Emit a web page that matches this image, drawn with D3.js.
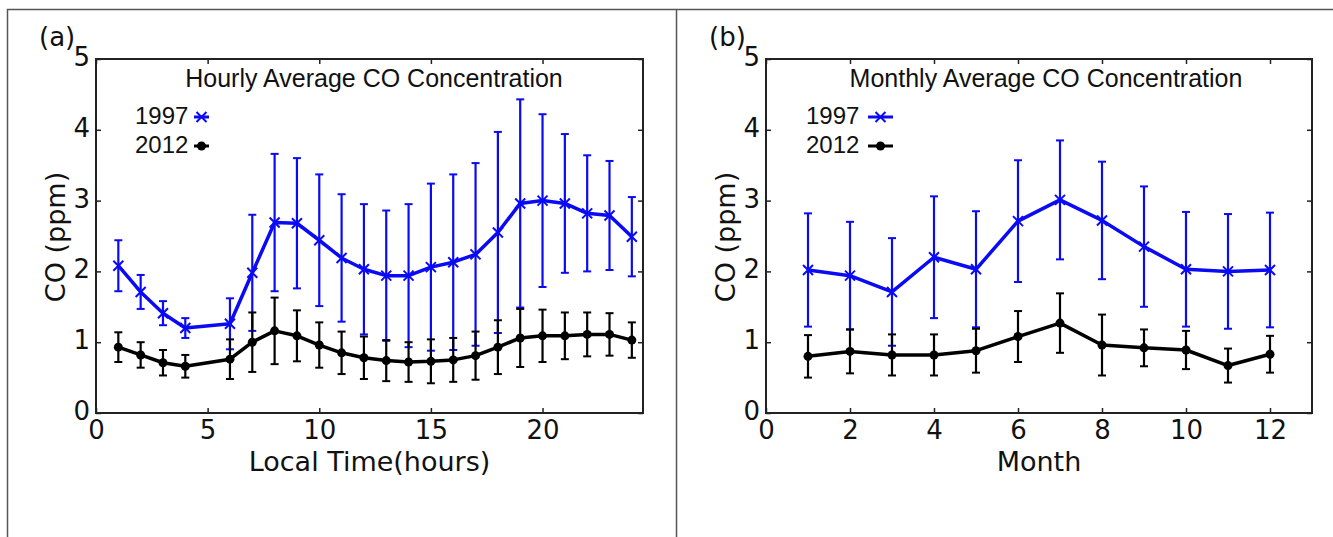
<!DOCTYPE html>
<html>
<head>
<meta charset="utf-8">
<script src="https://cdn.jsdelivr.net/npm/d3@7"></script>
<style>
  body { margin: 0; background: #fff; }
  svg { display: block; }
  .tick text { font-family: "DejaVu Sans", sans-serif; font-size: 26px; fill: #111; }
  .tick line { stroke: #222; stroke-width: 1.5; }
</style>
</head>
<body>
<svg id="chart" width="1333" height="537"></svg>
<script>
// hourly data (hour 5 is missing in the source)
const hours = [1, 2, 3, 4, 6, 7, 8, 9, 10, 11, 12, 13, 14, 15, 16, 17, 18, 19, 20, 21, 22, 23, 24];
const hourly1997 = [2.08, 1.71, 1.41, 1.20, 1.26, 1.98, 2.69, 2.68, 2.44, 2.19, 2.03, 1.94, 1.94, 2.06, 2.13, 2.24, 2.55, 2.96, 3.00, 2.96, 2.82, 2.79, 2.49];
const hourly1997Std = [0.36, 0.24, 0.17, 0.14, 0.36, 0.82, 0.97, 0.92, 0.93, 0.90, 0.92, 0.92, 1.01, 1.18, 1.24, 1.29, 1.42, 1.47, 1.22, 0.98, 0.82, 0.77, 0.56];
const hourly2012 = [0.93, 0.82, 0.71, 0.66, 0.76, 1.00, 1.16, 1.09, 0.96, 0.85, 0.78, 0.74, 0.72, 0.73, 0.75, 0.81, 0.93, 1.06, 1.09, 1.09, 1.11, 1.11, 1.03];
const hourly2012Std = [0.21, 0.18, 0.18, 0.16, 0.28, 0.42, 0.47, 0.36, 0.32, 0.30, 0.30, 0.29, 0.28, 0.31, 0.31, 0.34, 0.38, 0.41, 0.37, 0.33, 0.31, 0.30, 0.25];

// monthly data
const months = [1, 2, 3, 4, 5, 6, 7, 8, 9, 10, 11, 12];
const monthly1997 = [2.02, 1.94, 1.71, 2.20, 2.03, 2.71, 3.01, 2.72, 2.35, 2.03, 2.00, 2.02];
const monthly1997Std = [0.80, 0.76, 0.76, 0.86, 0.82, 0.86, 0.84, 0.83, 0.85, 0.81, 0.81, 0.81];
const monthly2012 = [0.80, 0.87, 0.82, 0.82, 0.88, 1.08, 1.27, 0.96, 0.92, 0.89, 0.67, 0.83];
const monthly2012Std = [0.30, 0.31, 0.29, 0.29, 0.31, 0.36, 0.42, 0.43, 0.26, 0.27, 0.24, 0.26];

const seriesNames = ["1997", "2012"];
const hourTicks = [0, 5, 10, 15, 20];
const monthTicks = [0, 2, 4, 6, 8, 10, 12];
const yTicks = [0, 1, 2, 3, 4, 5];

const blue = "#0a0af5";
const black = "#000";

const svg = d3.select("#chart");
svg.append("rect").attr("width", 1333).attr("height", 537).attr("fill", "#fff");

// outer panel frames
svg.append("path")
  .attr("d", "M7.5,537V9.5H1333M676.5,9.5V537")
  .attr("fill", "none").attr("stroke", "#555").attr("stroke-width", 1.5);

function drawPanel(cfg) {
  const g = svg.append("g");
  const x = d3.scaleLinear().domain(cfg.xDomain).range([cfg.left, cfg.right]);
  const y = d3.scaleLinear().domain([0, 5]).range([413, 59]);

  // axes, ticks pointing inward on all sides
  const bottom = g.append("g").attr("transform", "translate(0,413)")
    .call(d3.axisBottom(x).tickValues(cfg.xTicks).tickFormat(d3.format("d")).tickSize(-5).tickPadding(8));
  const top = g.append("g").attr("transform", "translate(0,59)")
    .call(d3.axisTop(x).tickValues(cfg.xTicks).tickFormat("").tickSize(-5));
  const leftAx = g.append("g").attr("transform", `translate(${cfg.left},0)`)
    .call(d3.axisLeft(y).tickValues(yTicks).tickFormat(d3.format("d")).tickSize(-5).tickPadding(6));
  const rightAx = g.append("g").attr("transform", `translate(${cfg.right},0)`)
    .call(d3.axisRight(y).tickValues(yTicks).tickFormat("").tickSize(-5));
  [bottom, top, leftAx, rightAx].forEach(a => a.select(".domain").remove());
  leftAx.selectAll(".tick text").attr("dy", "0.25em");

  // frame
  g.append("rect")
    .attr("x", cfg.left).attr("y", 59)
    .attr("width", cfg.right - cfg.left).attr("height", 413 - 59)
    .attr("fill", "none").attr("stroke", "#222").attr("stroke-width", 2);

  // series: 1997 first, 2012 on top
  const series = [
    { vals: cfg.s1997, std: cfg.s1997Std, color: blue, marker: "x" },
    { vals: cfg.s2012, std: cfg.s2012Std, color: black, marker: "o" }
  ];
  const line = d3.line().x(d => x(d[0])).y(d => y(d[1]));

  series.forEach(s => {
    const pts = cfg.xs.map((xv, i) => [xv, s.vals[i], s.std[i]]);
    const sg = g.append("g");
    // error bars
    sg.selectAll(".eb").data(pts).join("line")
      .attr("x1", d => x(d[0])).attr("x2", d => x(d[0]))
      .attr("y1", d => y(d[1] - d[2])).attr("y2", d => y(d[1] + d[2]))
      .attr("stroke", s.color).attr("stroke-width", 2.2);
    [-1, 1].forEach(sign => {
      sg.selectAll(null).data(pts).join("line")
        .attr("x1", d => x(d[0]) - 4).attr("x2", d => x(d[0]) + 4)
        .attr("y1", d => y(d[1] + sign * d[2])).attr("y2", d => y(d[1] + sign * d[2]))
        .attr("stroke", s.color).attr("stroke-width", 2);
    });
    sg.append("path").datum(pts).attr("d", line)
      .attr("fill", "none").attr("stroke", s.color).attr("stroke-width", 3.5)
      .attr("stroke-linejoin", "round");
    if (s.marker === "x") {
      sg.selectAll(".mk").data(pts).join("path")
        .attr("transform", d => `translate(${x(d[0])},${y(d[1])})`)
        .attr("d", "M-5,-5L5,5M-5,5L5,-5")
        .attr("stroke", s.color).attr("stroke-width", 2);
    } else {
      sg.selectAll(".mk").data(pts).join("circle")
        .attr("cx", d => x(d[0])).attr("cy", d => y(d[1])).attr("r", 4.5)
        .attr("fill", s.color);
    }
  });

  // title
  g.append("text").attr("x", cfg.titleX).attr("y", 87)
    .attr("text-anchor", "middle")
    .style("font-family", "'Liberation Sans', Arial, sans-serif").style("font-size", "25px")
    .attr("fill", "#111").text(cfg.title);

  // legend
  const legY = [117, 146];
  seriesNames.forEach((name, i) => {
    g.append("text").attr("x", cfg.legX).attr("y", legY[i] + 7)
      .style("font-family", "'Liberation Sans', Arial, sans-serif").style("font-size", "24px")
      .attr("fill", "#111").text(name);
    const s = series[i];
    g.append("line").attr("x1", cfg.legLine[0]).attr("x2", cfg.legLine[1])
      .attr("y1", legY[i]).attr("y2", legY[i]).attr("stroke", s.color).attr("stroke-width", 3);
    const mx = (cfg.legLine[0] + cfg.legLine[1]) / 2;
    if (s.marker === "x") {
      g.append("path").attr("transform", `translate(${mx},${legY[i]})`)
        .attr("d", "M-5,-5L5,5M-5,5L5,-5").attr("stroke", s.color).attr("stroke-width", 2);
    } else {
      g.append("circle").attr("cx", mx).attr("cy", legY[i]).attr("r", 4.5).attr("fill", s.color);
    }
  });

  // axis labels
  g.append("text").attr("x", (cfg.left + cfg.right) / 2).attr("y", 471)
    .attr("text-anchor", "middle")
    .style("font-family", "'DejaVu Sans', sans-serif").style("font-size", "27px")
    .attr("fill", "#111").text(cfg.xLabel);
  g.append("text").attr("transform", `translate(${cfg.left - 31},237) rotate(-90)`)
    .attr("text-anchor", "middle")
    .style("font-family", "'DejaVu Sans', sans-serif").style("font-size", "27px")
    .attr("fill", "#111").text("CO (ppm)");

  // panel letter
  g.append("text").attr("x", cfg.left - 57).attr("y", 46)
    .style("font-family", "'DejaVu Sans', sans-serif").style("font-size", "26px")
    .attr("fill", "#111").text(cfg.letter);
}

drawPanel({
  left: 96, right: 643, xDomain: [0, 24.5], xTicks: hourTicks,
  xs: hours, s1997: hourly1997, s1997Std: hourly1997Std, s2012: hourly2012, s2012Std: hourly2012Std,
  title: "Hourly Average CO Concentration", titleX: 374,
  legX: 135, legLine: [194, 209],
  xLabel: "Local Time(hours)", letter: "(a)"
});

drawPanel({
  left: 766, right: 1312, xDomain: [0, 13], xTicks: monthTicks,
  xs: months, s1997: monthly1997, s1997Std: monthly1997Std, s2012: monthly2012, s2012Std: monthly2012Std,
  title: "Monthly Average CO Concentration", titleX: 1046,
  legX: 806, legLine: [868, 893],
  xLabel: "Month", letter: "(b)"
});
</script>
</body>
</html>
